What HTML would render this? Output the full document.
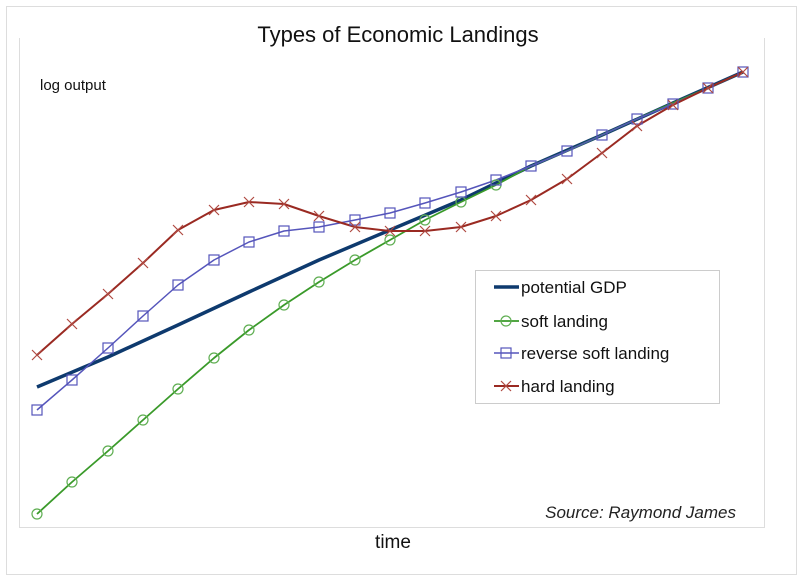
<!DOCTYPE html>
<html><head><style>
body{margin:0;background:#fff;}
svg{display:block;font-family:"Liberation Sans",sans-serif;}
</style></head><body>
<svg width="801" height="579" viewBox="0 0 801 579">
<rect x="6.5" y="6.5" width="790" height="568" fill="#fff" stroke="#ddd"/>
<path d="M19.5,38 V527.5 H764.5 V38" fill="none" stroke="#ddd"/>
<text x="398" y="42" font-size="22" text-anchor="middle" fill="#111">Types of Economic Landings</text>
<text x="40" y="90" font-size="15" fill="#111">log output</text>
<text x="393" y="548" font-size="19" text-anchor="middle" fill="#111">time</text>
<text x="736" y="518" font-size="17" font-style="italic" text-anchor="end" fill="#222">Source: Raymond James</text>
<g fill="none" stroke-linejoin="round">
<polyline stroke="#0e3a6e" stroke-width="3.5" points="37,387 108,357 178,325 249,292 319,260 390,230 461,200 531,166 602,135 673,103 743,72"/>
<polyline stroke="#3a9a2a" stroke-width="1.8" points="37,514 72,482 108,451 143,420 178,389 214,358 249,330 284,305 319,282 355,260 390,240 425,220 461,202 496,185 531,166 567,151 602,135 637,119 673,103 708,88 743,72"/>
<polyline stroke="#5555bb" stroke-width="1.5" points="37,410 72,380 108,348 143,316 178,285 214,260 249,242 284,231 319,227 355,220 390,213 425,203 461,192 496,180 531,166 567,151 602,135 637,119 673,104 708,88 743,72"/>
<polyline stroke="#9a2a22" stroke-width="2" points="37,355 72,324 108,294 143,263 178,230 214,210 249,202 284,204 319,216 355,227 390,231 425,231 461,227 496,216 531,200 567,179 602,153 637,126 673,105 708,88 743,72"/>
</g>
<g fill="none" stroke="#5fae52" stroke-width="1.2">
<circle cx="37" cy="514" r="5"/><circle cx="72" cy="482" r="5"/><circle cx="108" cy="451" r="5"/><circle cx="143" cy="420" r="5"/><circle cx="178" cy="389" r="5"/><circle cx="214" cy="358" r="5"/><circle cx="249" cy="330" r="5"/><circle cx="284" cy="305" r="5"/><circle cx="319" cy="282" r="5"/><circle cx="355" cy="260" r="5"/><circle cx="390" cy="240" r="5"/><circle cx="425" cy="220" r="5"/><circle cx="461" cy="202" r="5"/><circle cx="496" cy="185" r="5"/>
</g>
<g fill="none" stroke="#5555bb" stroke-width="1.2">
<rect x="32" y="405" width="10" height="10"/><rect x="67" y="375" width="10" height="10"/><rect x="103" y="343" width="10" height="10"/><rect x="138" y="311" width="10" height="10"/><rect x="173" y="280" width="10" height="10"/><rect x="209" y="255" width="10" height="10"/><rect x="244" y="237" width="10" height="10"/><rect x="279" y="226" width="10" height="10"/><rect x="314" y="222" width="10" height="10"/><rect x="350" y="215" width="10" height="10"/><rect x="385" y="208" width="10" height="10"/><rect x="420" y="198" width="10" height="10"/><rect x="456" y="187" width="10" height="10"/><rect x="491" y="175" width="10" height="10"/><rect x="526" y="161" width="10" height="10"/><rect x="562" y="146" width="10" height="10"/><rect x="597" y="130" width="10" height="10"/><rect x="632" y="114" width="10" height="10"/><rect x="668" y="99" width="10" height="10"/><rect x="703" y="83" width="10" height="10"/><rect x="738" y="67" width="10" height="10"/>
</g>
<g stroke="#b04a42" stroke-width="1.2">
<path d="M32,350l10,10M42,350l-10,10 M67,319l10,10M77,319l-10,10 M103,289l10,10M113,289l-10,10 M138,258l10,10M148,258l-10,10 M173,225l10,10M183,225l-10,10 M209,205l10,10M219,205l-10,10 M244,197l10,10M254,197l-10,10 M279,199l10,10M289,199l-10,10 M314,211l10,10M324,211l-10,10 M350,222l10,10M360,222l-10,10 M385,226l10,10M395,226l-10,10 M420,226l10,10M430,226l-10,10 M456,222l10,10M466,222l-10,10 M491,211l10,10M501,211l-10,10 M526,195l10,10M536,195l-10,10 M562,174l10,10M572,174l-10,10 M597,148l10,10M607,148l-10,10 M632,121l10,10M642,121l-10,10 M668,100l10,10M678,100l-10,10 M703,83l10,10M713,83l-10,10 M738,67l10,10M748,67l-10,10"/>
</g>
<rect x="475.5" y="270.5" width="244" height="133" fill="#fff" stroke="#ccc"/>
<line x1="494" y1="287" x2="519" y2="287" stroke="#0e3a6e" stroke-width="3.5"/>
<line x1="494" y1="321" x2="519" y2="321" stroke="#3a9a2a" stroke-width="1.8"/><circle cx="506" cy="321" r="5" fill="none" stroke="#5fae52" stroke-width="1.2"/>
<line x1="494" y1="353" x2="519" y2="353" stroke="#5555bb" stroke-width="1.5"/><rect x="501" y="348" width="10" height="10" fill="none" stroke="#5555bb" stroke-width="1.2"/>
<line x1="494" y1="386" x2="519" y2="386" stroke="#9a2a22" stroke-width="2"/><path d="M501,381l10,10M511,381l-10,10" stroke="#b04a42" stroke-width="1.2"/>
<g font-size="17" fill="#111">
<text x="521" y="293">potential GDP</text>
<text x="521" y="327">soft landing</text>
<text x="521" y="359">reverse soft landing</text>
<text x="521" y="392">hard landing</text>
</g>
</svg>
</body></html>
